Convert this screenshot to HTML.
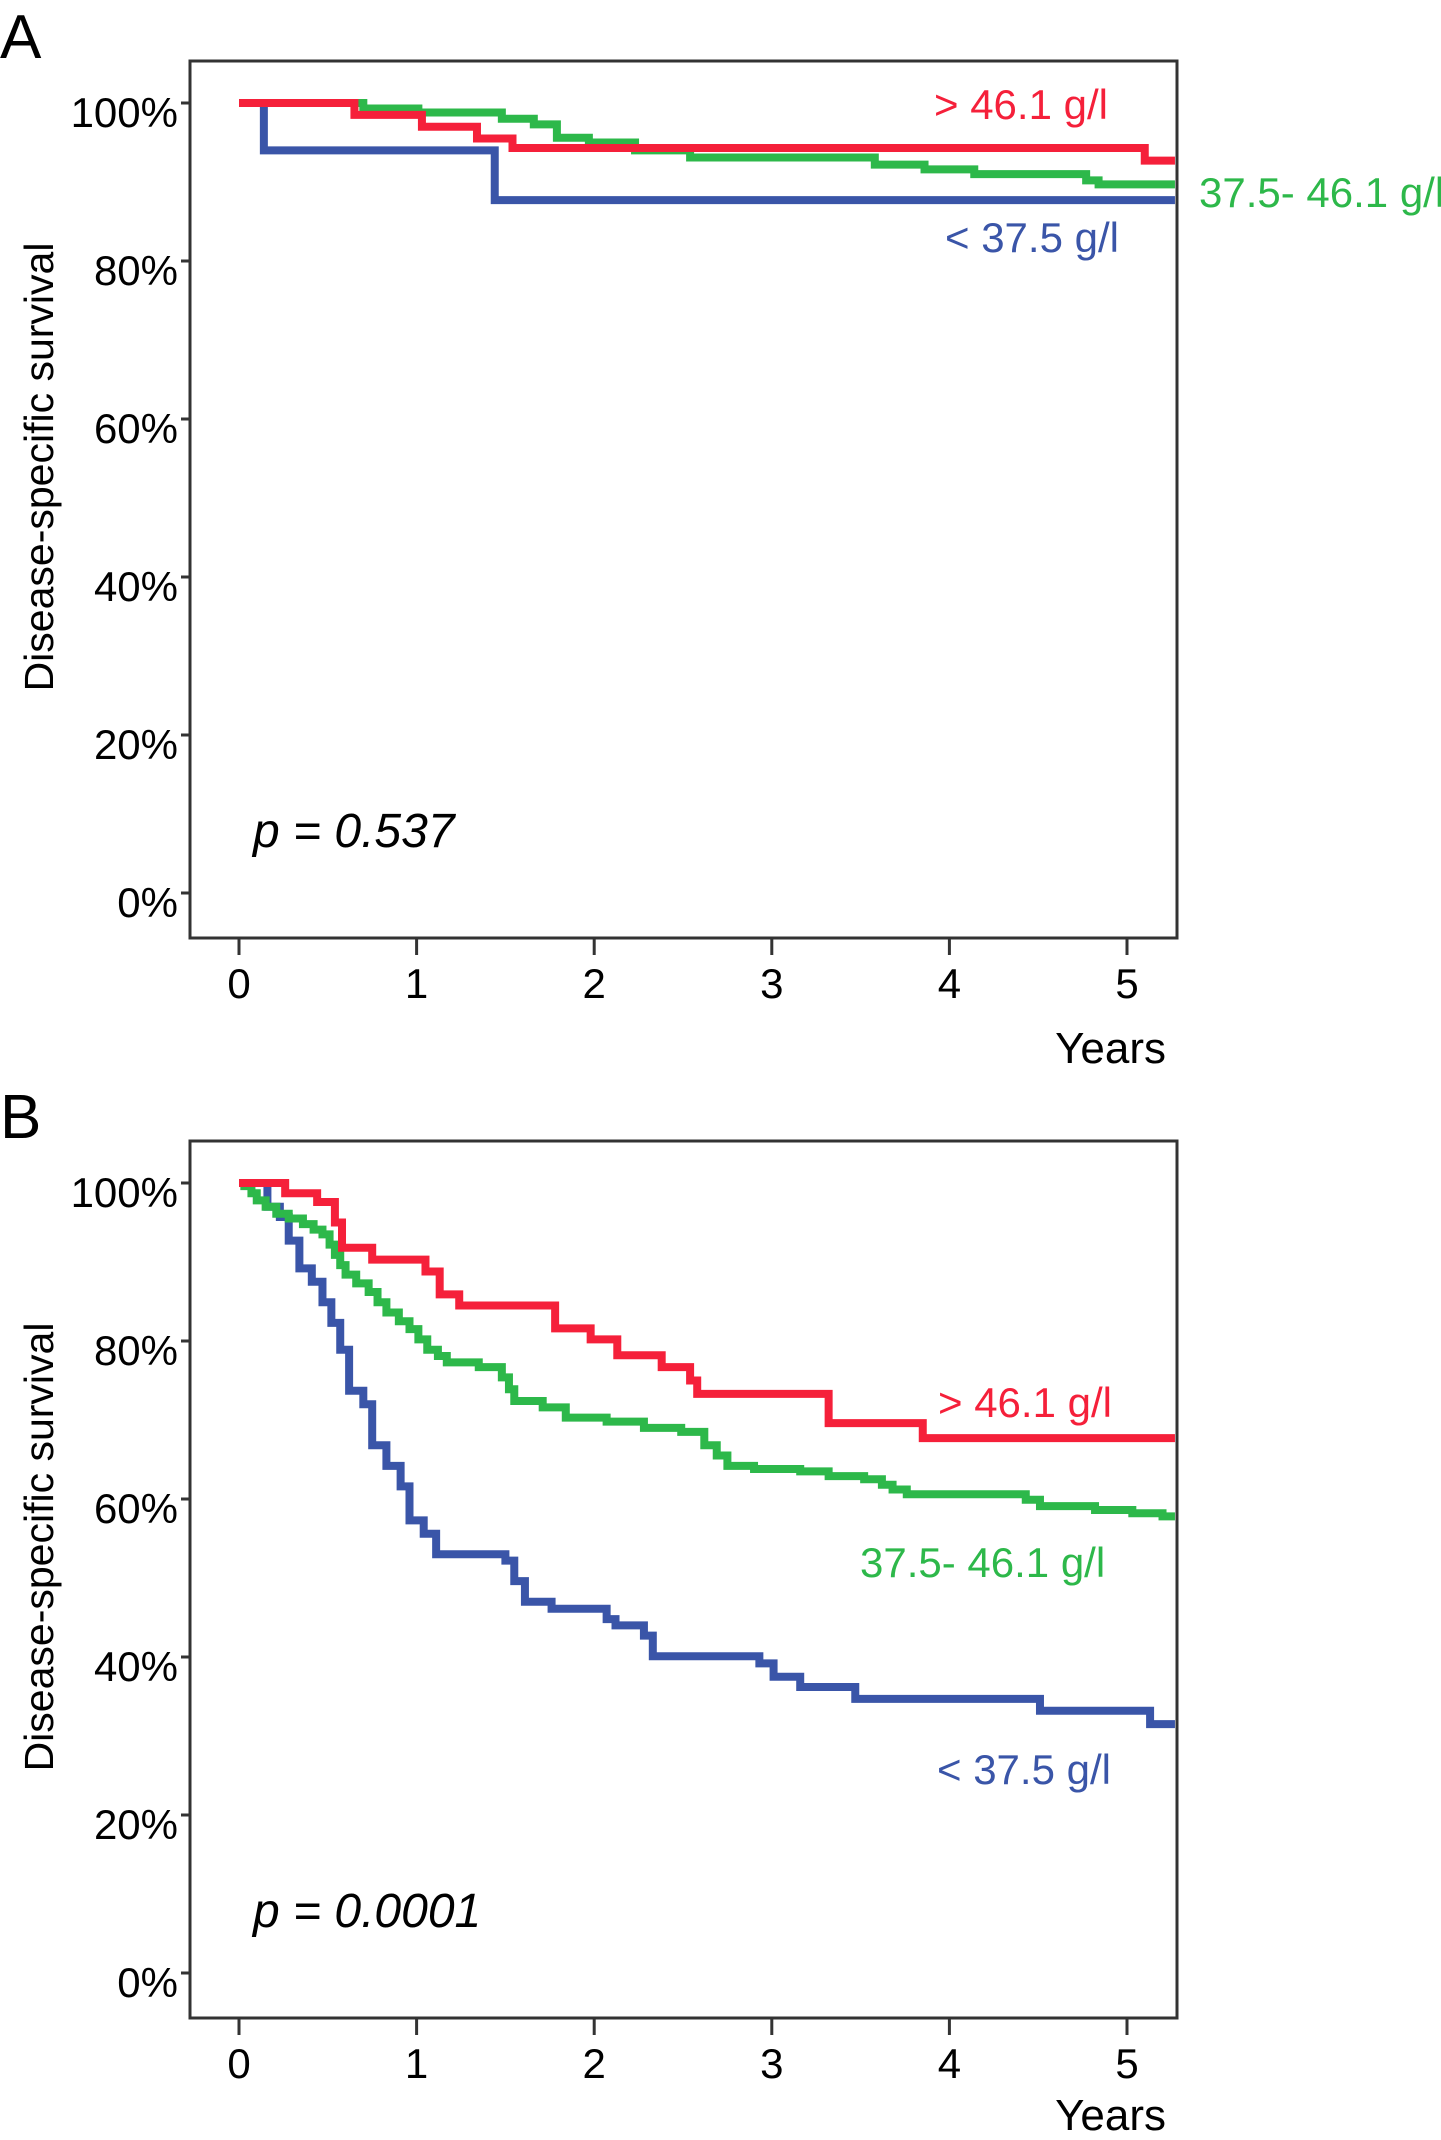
<!DOCTYPE html>
<html><head><meta charset="utf-8">
<style>
html,body{margin:0;padding:0;background:#fff;}
svg{display:block;font-family:"Liberation Sans",sans-serif;}
</style></head>
<body>
<svg id="chart" width="1441" height="2140" viewBox="0 0 1441 2140" xmlns="http://www.w3.org/2000/svg"></svg>
<script>
// Panel A data (years, survival %)
const aRedT = [0, 0.65, 1.03, 1.34, 1.54, 5.1];
const aRedS = [100, 98.5, 97, 95.5, 94.3, 92.7];
const aGreenT = [0, 0.7, 1.01, 1.48, 1.66, 1.79, 1.97, 2.23, 2.54, 3.58, 3.86, 4.14, 4.77, 4.84];
const aGreenS = [100, 99.3, 98.8, 98.0, 97.3, 95.6, 95.0, 94.0, 93.1, 92.2, 91.6, 91.0, 90.2, 89.7];
const aBlueT = [0, 0.14, 1.44];
const aBlueS = [100, 94, 87.7];
// Panel B data
const bRedT = [0, 0.26, 0.44, 0.54, 0.58, 0.75, 1.05, 1.13, 1.24, 1.78, 1.98, 2.13, 2.38, 2.54, 2.58, 3.32, 3.85];
const bRedS = [100, 98.7, 97.6, 95.0, 91.8, 90.3, 88.8, 85.9, 84.5, 81.6, 80.2, 78.2, 76.7, 75.0, 73.3, 69.6, 67.7];
const bGreenT = [0, 0.03, 0.07, 0.10, 0.15, 0.21, 0.28, 0.36, 0.42, 0.47, 0.51, 0.54, 0.57, 0.60, 0.66, 0.73, 0.78, 0.83, 0.90, 0.96, 1.01, 1.06, 1.12, 1.17, 1.35, 1.48, 1.52, 1.55, 1.71, 1.84, 2.07, 2.28, 2.49, 2.62, 2.69, 2.75, 2.90, 3.16, 3.32, 3.52, 3.62, 3.68, 3.76, 4.43, 4.51, 4.82, 5.03, 5.2];
const bGreenS = [100, 99.6, 98.7, 97.8, 97.0, 96.1, 95.5, 94.8, 94.1, 93.5, 92.2, 90.9, 89.6, 88.4, 87.3, 86.2, 84.9, 83.6, 82.5, 81.5, 80.2, 78.9, 78.1, 77.3, 76.7, 75.4, 73.9, 72.4, 71.6, 70.3, 69.8, 69.0, 68.5, 66.8, 65.5, 64.2, 63.8, 63.5, 62.9, 62.5, 61.8, 61.2, 60.6, 59.9, 59.1, 58.6, 58.2, 57.8];
const bBlueT = [0, 0.16, 0.23, 0.28, 0.34, 0.41, 0.47, 0.52, 0.57, 0.62, 0.70, 0.75, 0.83, 0.91, 0.96, 1.04, 1.11, 1.50, 1.55, 1.61, 1.76, 2.07, 2.12, 2.28, 2.33, 2.93, 3.01, 3.16, 3.47, 4.51, 5.13];
const bBlueS = [100, 97.0, 95.7, 92.7, 89.2, 87.5, 84.9, 82.3, 78.9, 73.7, 72.0, 66.8, 64.2, 61.6, 57.3, 55.6, 53.0, 52.2, 49.6, 47.0, 46.1, 44.8, 44.0, 42.7, 40.1, 39.2, 37.5, 36.2, 34.7, 33.2, 31.5];
const yTicks = [0, 20, 40, 60, 80, 100];
const yTickLabels = ["0%", "20%", "40%", "60%", "80%", "100%"];
const xTicks = [0, 1, 2, 3, 4, 5];
const tEnd = 5.27;

const NS = "http://www.w3.org/2000/svg";
const svg = document.getElementById("chart");
function mk(tag, attrs, parent, text) {
  const e = document.createElementNS(NS, tag);
  for (const k in attrs) e.setAttribute(k, attrs[k]);
  if (text !== undefined) e.textContent = text;
  (parent || svg).appendChild(e);
  return e;
}
const RED = "#f5203a", GREEN = "#2db84a", BLUE = "#3a55a8";

function panel(id, dy, yearsY, series, labels, pText) {
  const g = mk("g", {});
  
  
  const x = t => 239 + t * 177.6;
  const y = s => dy + 893 - s * 7.9;
  const letter = mk("text", {x: 0, y: dy + 58, "font-size": 62}, g, id.toUpperCase());
  
  
  const frame = mk("rect", {x: 190, y: dy + 61, width: 987, height: 877, fill: "none", stroke: "#333", "stroke-width": 3}, g);
  
  
  yTicks.forEach((v, i) => {
    const tk = mk("line", {x1: 181, x2: 190, y1: y(v), y2: y(v), stroke: "#333", "stroke-width": 3}, g);
    
    
    const tl = mk("text", {x: 178, y: y(v) + 24, "font-size": 42, "text-anchor": "end"}, g, yTickLabels[i]);
    
    
  });
  xTicks.forEach(v => {
    const tk = mk("line", {x1: x(v), x2: x(v), y1: dy + 938, y2: dy + 955, stroke: "#333", "stroke-width": 3}, g);
    
    
    const tl = mk("text", {x: x(v), y: dy + 998, "font-size": 42, "text-anchor": "middle"}, g, String(v));
    
    
  });
  const xt = mk("text", {x: 1166, y: yearsY, "font-size": 44, "text-anchor": "end"}, g, "Years");
  
  
  const yt = mk("text", {x: 0, y: 0, "font-size": 41, "text-anchor": "middle", transform: `translate(53,${dy + 467}) rotate(-90)`}, g, "Disease-specific survival");
  
  
  series.forEach(s => {
    let d = `M${x(s.t[0])},${y(s.s[0])}`;
    for (let i = 1; i < s.t.length; i++) {
      d += ` H${x(s.t[i])} V${y(s.s[i])}`;
    }
    d += ` H${x(tEnd)}`;
    const p = mk("path", {d: d, fill: "none", stroke: s.c, "stroke-width": 8}, g);
    
    
  });
  labels.forEach(l => {
    const t = mk("text", {x: l.x, y: dy + l.y, "font-size": 42, fill: l.c}, g, l.txt);
    
    
  });
  const pt = mk("text", {x: 253, y: dy + 847, "font-size": 48, "font-style": "italic"}, g, pText);
  
  
}

panel("a", 0, 1063, [
  {t: aGreenT, s: aGreenS, c: GREEN, name: "curve-mid-albumin"},
  {t: aBlueT, s: aBlueS, c: BLUE, name: "curve-low-albumin"},
  {t: aRedT, s: aRedS, c: RED, name: "curve-high-albumin"}
], [
  {x: 934, y: 119, c: RED, txt: "> 46.1 g/l", name: "label-high-albumin"},
  {x: 1199, y: 207, c: GREEN, txt: "37.5- 46.1 g/l", name: "label-mid-albumin"},
  {x: 945, y: 252, c: BLUE, txt: "< 37.5 g/l", name: "label-low-albumin"}
], "p = 0.537");

panel("b", 1080, 2130, [
  {t: bBlueT, s: bBlueS, c: BLUE, name: "curve-low-albumin"},
  {t: bGreenT, s: bGreenS, c: GREEN, name: "curve-mid-albumin"},
  {t: bRedT, s: bRedS, c: RED, name: "curve-high-albumin"}
], [
  {x: 938, y: 337, c: RED, txt: "> 46.1 g/l", name: "label-high-albumin"},
  {x: 860, y: 497, c: GREEN, txt: "37.5- 46.1 g/l", name: "label-mid-albumin"},
  {x: 937, y: 704, c: BLUE, txt: "< 37.5 g/l", name: "label-low-albumin"}
], "p = 0.0001");
</script>
</body></html>
